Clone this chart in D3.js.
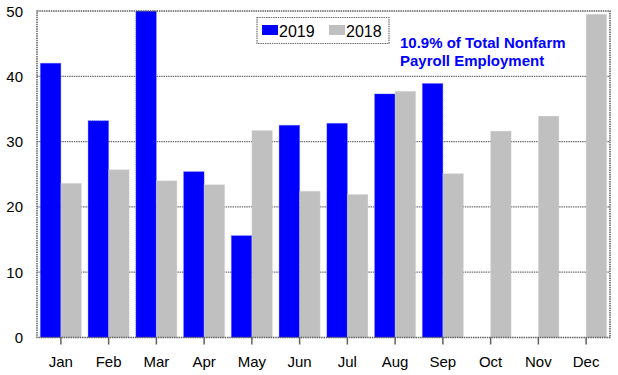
<!DOCTYPE html>
<html>
<head>
<meta charset="utf-8">
<script src="https://cdn.jsdelivr.net/npm/d3@7"></script>
<style>
  body { margin: 0; background: #fff; }
  svg { display: block; font-family: "Liberation Sans", Arial, sans-serif; }
</style>
</head>
<body>
<div id="chart"></div>
<script>
const months = ["Jan", "Feb", "Mar", "Apr", "May", "Jun", "Jul", "Aug", "Sep", "Oct", "Nov", "Dec"];
const values2019 = [42.0, 33.2, 50.0, 25.4, 15.6, 32.5, 32.8, 37.3, 38.9, null, null, null];
const values2018 = [23.6, 25.7, 24.0, 23.4, 31.7, 22.4, 21.9, 37.7, 25.1, 31.6, 33.9, 49.5];
const yTicks = [0, 10, 20, 30, 40, 50];
const seriesNames = ["2019", "2018"];
const seriesColors = ["#0000ff", "#c0c0c0"];

const width = 618, height = 375;
const margin = { top: 11, right: 8, bottom: 37.5, left: 37 };

const svg = d3.select("#chart")
  .append("svg")
  .attr("width", width)
  .attr("height", height);

const x = d3.scaleBand()
  .domain(months)
  .range([margin.left, width - margin.right])
  .paddingInner(0.14)
  .paddingOuter(0.07);

const xSub = d3.scaleBand()
  .domain(seriesNames)
  .range([0, x.bandwidth()]);

const y = d3.scaleLinear()
  .domain([0, 50])
  .range([height - margin.bottom, margin.top]);

// gridlines
svg.append("g")
  .selectAll("line")
  .data(yTicks.filter(d => d > 0 && d < 50))
  .enter()
  .append("line")
  .attr("x1", margin.left)
  .attr("x2", width - margin.right)
  .attr("y1", d => y(d))
  .attr("y2", d => y(d))
  .style("stroke", "#707070")
  .style("stroke-width", 1.3)
  .style("stroke-dasharray", "1.5,0.8");

// bars
const rows = months.map((m, i) => ({ month: m, vals: [values2019[i], values2018[i]] }));

const groups = svg.append("g")
  .selectAll("g")
  .data(rows)
  .enter()
  .append("g")
  .attr("transform", d => `translate(${x(d.month)},0)`);

groups.selectAll("rect")
  .data(d => d.vals.map((v, j) => ({ key: seriesNames[j], v, color: seriesColors[j] })).filter(e => e.v != null))
  .enter()
  .append("rect")
  .attr("x", d => xSub(d.key))
  .attr("width", xSub.bandwidth())
  .attr("y", d => y(d.v))
  .attr("height", d => y(0) - y(d.v))
  .style("fill", d => d.color)
  .style("stroke", d => d.key === "2019" ? "#6a6aff" : "#d8d8d8")
  .style("stroke-width", 0.6)
  .style("stroke-dasharray", "1,1");

// frame
svg.append("rect")
  .attr("x", margin.left)
  .attr("y", margin.top)
  .attr("width", width - margin.right - margin.left)
  .attr("height", y(0) - margin.top)
  .style("fill", "none")
  .style("stroke", "#606060")
  .style("stroke-width", 1.5)
  .style("stroke-dasharray", "1.5,0.8");

// x ticks and labels
const xAxis = svg.append("g").attr("transform", `translate(0,${y(0)})`);
xAxis.selectAll("line")
  .data(months)
  .enter()
  .append("line")
  .attr("x1", d => x(d) + x.bandwidth() / 2)
  .attr("x2", d => x(d) + x.bandwidth() / 2)
  .attr("y1", 0)
  .attr("y2", 7)
  .style("stroke", "#606060")
  .style("stroke-width", 1.5);

xAxis.selectAll("text")
  .data(months)
  .enter()
  .append("text")
  .attr("x", d => x(d) + x.bandwidth() / 2)
  .attr("y", 29)
  .attr("text-anchor", "middle")
  .style("font-size", "15px")
  .style("fill", "#000")
  .text(d => d);

// y labels
svg.append("g")
  .selectAll("text")
  .data(yTicks)
  .enter()
  .append("text")
  .attr("x", 23)
  .attr("y", d => y(d) + 5.5)
  .attr("text-anchor", "end")
  .style("font-size", "15px")
  .style("fill", "#000")
  .text(d => d);

// legend
const legend = svg.append("g");
legend.append("rect")
  .attr("x", 257)
  .attr("y", 17.5)
  .attr("width", 132)
  .attr("height", 26)
  .style("fill", "#fff")
  .style("stroke", "#707070")
  .style("stroke-width", 1.2)
  .style("stroke-dasharray", "1.5,0.8");

const legendX = [262, 329];
seriesNames.forEach((name, i) => {
  legend.append("rect")
    .attr("x", legendX[i])
    .attr("y", 25)
    .attr("width", 16)
    .attr("height", 10)
    .style("fill", seriesColors[i]);
  legend.append("text")
    .attr("x", legendX[i] + 17)
    .attr("y", 36.5)
    .style("font-size", "16px")
    .style("fill", "#000")
    .text(name);
});

// annotation
const note = svg.append("text")
  .attr("x", 400)
  .style("font-size", "15px")
  .style("font-weight", "bold")
  .style("fill", "#0000ff");
note.append("tspan").attr("x", 400).attr("y", 47.5).text("10.9% of Total Nonfarm");
note.append("tspan").attr("x", 400).attr("y", 66).text("Payroll Employment");
</script>
</body>
</html>
